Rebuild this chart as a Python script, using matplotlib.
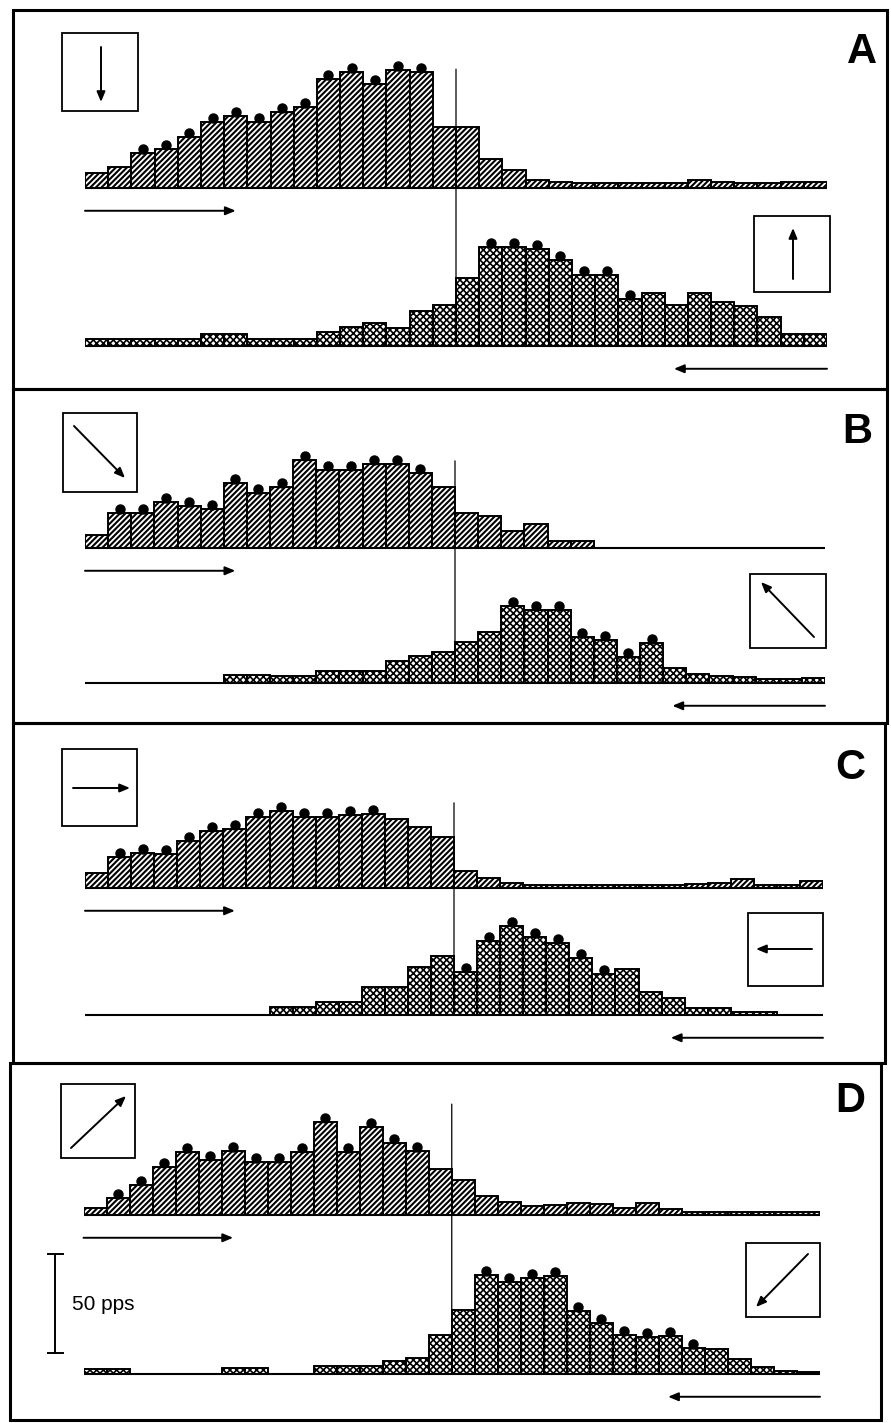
import numpy as np
import matplotlib.pyplot as plt
from matplotlib.patches import Rectangle, ConnectionPatch
from matplotlib.transforms import offset_copy, blended_transform_factory

plt.rcParams['font.family'] = ['Liberation Sans', 'DejaVu Sans']
plt.rcParams['hatch.linewidth'] = 1.4

W, H = 891, 1423
PX_PER_PPS = 99 / 50      # 50 pps scale bar is ~99 px tall
AX_H = 135                # px height of each histogram axes
N_BINS = 32

# discharge rate per bin (pps); UP = hatched sweep, LO = cross-hatched sweep
A_UP = [7.5, 10.5, 17.5, 19.5, 26, 33.5, 36.5, 33.5, 38.5, 41, 55, 58.5, 52.5, 59.5, 58.5, 31,
        31, 14.5, 9, 4, 3, 2.5, 2.5, 2.5, 2.5, 2.5, 4, 3, 2.5, 2.5, 3, 3]
A_LO = [3.5, 3.5, 3.5, 3.5, 3.5, 6, 6, 3.5, 3.5, 3.5, 7, 9.5, 11.5, 9, 17.5, 20.5,
        34.5, 50, 50, 49, 43.5, 36, 36, 23.5, 27, 20.5, 27, 22, 20, 14.5, 6, 6]
B_UP = [6.5, 17.5, 17.5, 23, 21, 19.5, 33, 28, 31, 44.5, 39.5, 39.5, 42.5, 42.5, 38, 31,
        17.5, 16, 8.5, 12, 3.5, 3.5, 0, 0, 0, 0, 0, 0, 0, 0, 0, 0]
B_LO = [0, 0, 0, 0, 0, 0, 4, 4, 3.5, 3.5, 6, 6, 6, 11, 13.5, 15.5,
        20.5, 26, 39, 37, 37, 23, 21.5, 13, 20, 7.5, 4.5, 3.5, 3, 2, 2, 2.5]
C_UP = [7.5, 15.5, 17.5, 17, 23.5, 29, 30, 36, 39, 36, 36, 37, 37.5, 35, 31, 26,
        8.5, 5, 2.5, 1.5, 1.5, 1.5, 1.5, 1.5, 1.5, 1.5, 2, 2.5, 4.5, 1.5, 1.5, 3.5]
C_LO = [0, 0, 0, 0, 0, 0, 0, 0, 4, 4, 6.5, 6.5, 14, 14, 24, 30,
        21.5, 37.5, 45, 39.5, 36.5, 29, 20.5, 23, 11.5, 8.5, 3.5, 3.5, 1.5, 1.5, 0, 0]
D_UP = [3.5, 8.5, 15, 24, 32, 28, 32.5, 27, 27, 32, 47, 32, 44.5, 36.5, 32.5, 23,
        17.5, 9.5, 6.5, 4.5, 5, 6, 5.5, 3.5, 6, 3, 1.5, 1.5, 1.5, 1.5, 1.5, 1.5]
D_LO = [2.5, 2.5, 0, 0, 0, 0, 3, 3, 0, 0, 4, 4, 4, 6.5, 8, 19.5,
        32.5, 50, 46.5, 48.5, 49.5, 32, 26, 19.5, 18.5, 19, 13, 12.5, 7.5, 3.5, 1.5, 1]

# bins (1-based) marked with a dot
A_UP_DOTS = [3, 4, 5, 6, 7, 8, 9, 10, 11, 12, 13, 14, 15]
A_LO_DOTS = [18, 19, 20, 21, 22, 23, 24]
B_UP_DOTS = [2, 3, 4, 5, 6, 7, 8, 9, 10, 11, 12, 13, 14, 15]
B_LO_DOTS = [19, 20, 21, 22, 23, 24, 25]
C_UP_DOTS = [2, 3, 4, 5, 6, 7, 8, 9, 10, 11, 12, 13]
C_LO_DOTS = [17, 18, 19, 20, 21, 22, 23]
D_UP_DOTS = [2, 3, 4, 5, 6, 7, 8, 9, 10, 11, 12, 13, 14, 15]
D_LO_DOTS = [18, 19, 20, 21, 22, 23, 24, 25, 26, 27]

SCALE_PPS = 50

# layout, in image pixels (y down)
PANELS = [
    dict(label='A', up=A_UP, lo=A_LO, up_dots=A_UP_DOTS, lo_dots=A_LO_DOTS,
         box=(13, 10, 887, 389), x0=85, x1=827, up_base=188, lo_base=346, vtop=60,
         label_xy=(862, 63),
         inset_up=(62, 33, 138, 111), arr_up=((101, 47), (101, 102)),
         inset_lo=(754, 216, 830, 292), arr_lo=((793, 279), (793, 228))),
    dict(label='B', up=B_UP, lo=B_LO, up_dots=B_UP_DOTS, lo_dots=B_LO_DOTS,
         box=(13, 389, 887, 723), x0=85, x1=825, up_base=548, lo_base=683, vtop=44,
         label_xy=(857, 443),
         inset_up=(63, 413, 137, 492), arr_up=((74, 426), (125, 478)),
         inset_lo=(750, 574, 826, 648), arr_lo=((814, 637), (761, 582))),
    dict(label='C', up=C_UP, lo=C_LO, up_dots=C_UP_DOTS, lo_dots=C_LO_DOTS,
         box=(13, 723, 885, 1063), x0=85, x1=823, up_base=888, lo_base=1015, vtop=43,
         label_xy=(850, 779),
         inset_up=(62, 749, 137, 826), arr_up=((73, 788), (130, 788)),
         inset_lo=(748, 913, 823, 986), arr_lo=((812, 949), (756, 949))),
    dict(label='D', up=D_UP, lo=D_LO, up_dots=D_UP_DOTS, lo_dots=D_LO_DOTS,
         box=(10, 1063, 881, 1420), x0=83.5, x1=820, up_base=1215, lo_base=1374, vtop=56,
         label_xy=(850, 1112),
         inset_up=(61, 1084, 135, 1158), arr_up=((71, 1148), (126, 1096)),
         inset_lo=(746, 1243, 820, 1317), arr_lo=((808, 1254), (756, 1307))),
]

ARROW = '-|>,head_length=0.6,head_width=0.25'
# (hatch pattern, hatch line width in pt)
HATCH_UP = ('//////', 1.5)
HATCH_LO = ('xxxxx', 1.2)


def arrow(ax, start, end, lw=1.3, coords='data'):
    ax.annotate('', xy=end, xytext=start, xycoords=coords, textcoords=coords,
                annotation_clip=False,
                arrowprops=dict(arrowstyle=ARROW, lw=lw, color='black',
                                mutation_scale=10, shrinkA=0, shrinkB=0))


def hist_axes(fig, x0, x1, base):
    ax = fig.add_axes([x0 / W, 1 - base / H, (x1 - x0) / W, AX_H / H])
    ax.set_facecolor('none')
    ax.set_xlim(0, N_BINS)
    ax.set_ylim(0, AX_H / PX_PER_PPS)
    ax.axis('off')
    return ax


def draw_hist(ax, vals, dots, hatch):
    x = np.arange(N_BINS)
    v = np.asarray(vals, dtype=float)
    pattern, hlw = hatch
    with plt.rc_context({'hatch.linewidth': hlw}):
        ax.bar(x, v, width=1, align='edge', color='white', edgecolor='black',
               linewidth=1.4, hatch=pattern, zorder=2)
    ax.plot([0, N_BINS], [0, 0], color='black', lw=1.5, zorder=3,
            solid_capstyle='butt', clip_on=False)
    d = np.asarray(dots) - 1
    lift = offset_copy(ax.transData, fig=ax.figure, y=4, units='dots')
    ax.plot(x[d] + 0.5, v[d], 'o', ms=6.5, color='black', transform=lift,
            clip_on=False, zorder=4)


fig = plt.figure(figsize=(W / 100, H / 100), dpi=100)
fig.patch.set_facecolor('white')

# overlay in pixel coordinates for frames, insets and letters
ov = fig.add_axes([0, 0, 1, 1])
ov.set_xlim(0, W)
ov.set_ylim(H, 0)
ov.axis('off')

for p in PANELS:
    l, t, r, b = p['box']
    ov.add_patch(Rectangle((l, t), r - l, b - t, fill=False, lw=2.2,
                           edgecolor='black'))
    ov.text(*p['label_xy'], p['label'], fontsize=30, fontweight='bold',
            ha='center', va='baseline')

    for key_box, key_arr in (('inset_up', 'arr_up'), ('inset_lo', 'arr_lo')):
        bl, bt, br, bb = p[key_box]
        ov.add_patch(Rectangle((bl, bt), br - bl, bb - bt, fill=False, lw=1.3,
                               edgecolor='black'))
        arrow(ov, *p[key_arr], lw=1.4)

    ax_up = hist_axes(fig, p['x0'], p['x1'], p['up_base'])
    ax_lo = hist_axes(fig, p['x0'], p['x1'], p['lo_base'])
    draw_hist(ax_up, p['up'], p['up_dots'], HATCH_UP)
    draw_hist(ax_lo, p['lo'], p['lo_dots'], HATCH_LO)

    # sweep direction arrows under each histogram
    arrow(ax_up, (0, -11.5), (6.5, -11.5), lw=1.4)
    arrow(ax_lo, (N_BINS, -11.5), (N_BINS - 6.6, -11.5), lw=1.4)

    # midline of the receptive field
    vl = ConnectionPatch(xyA=(16, p['vtop']), coordsA=ax_up.transData,
                         xyB=(16, 0), coordsB=ax_lo.transData,
                         color='black', lw=0.9, zorder=5)
    fig.add_artist(vl)

    if p['label'] == 'D':
        tr = blended_transform_factory(ov.transData, ax_lo.transData)
        y0, y1 = 10.5, 10.5 + SCALE_PPS
        ov.plot([55, 55], [y0, y1], color='black', lw=1.4, transform=tr, clip_on=False)
        for yy in (y0, y1):
            ov.plot([48, 63], [yy, yy], color='black', lw=1.4, transform=tr,
                    clip_on=False)
        ov.text(72, 1310, f'{SCALE_PPS} pps', fontsize=15, va='baseline')

fig.savefig('out.png', dpi=100, facecolor='white')
